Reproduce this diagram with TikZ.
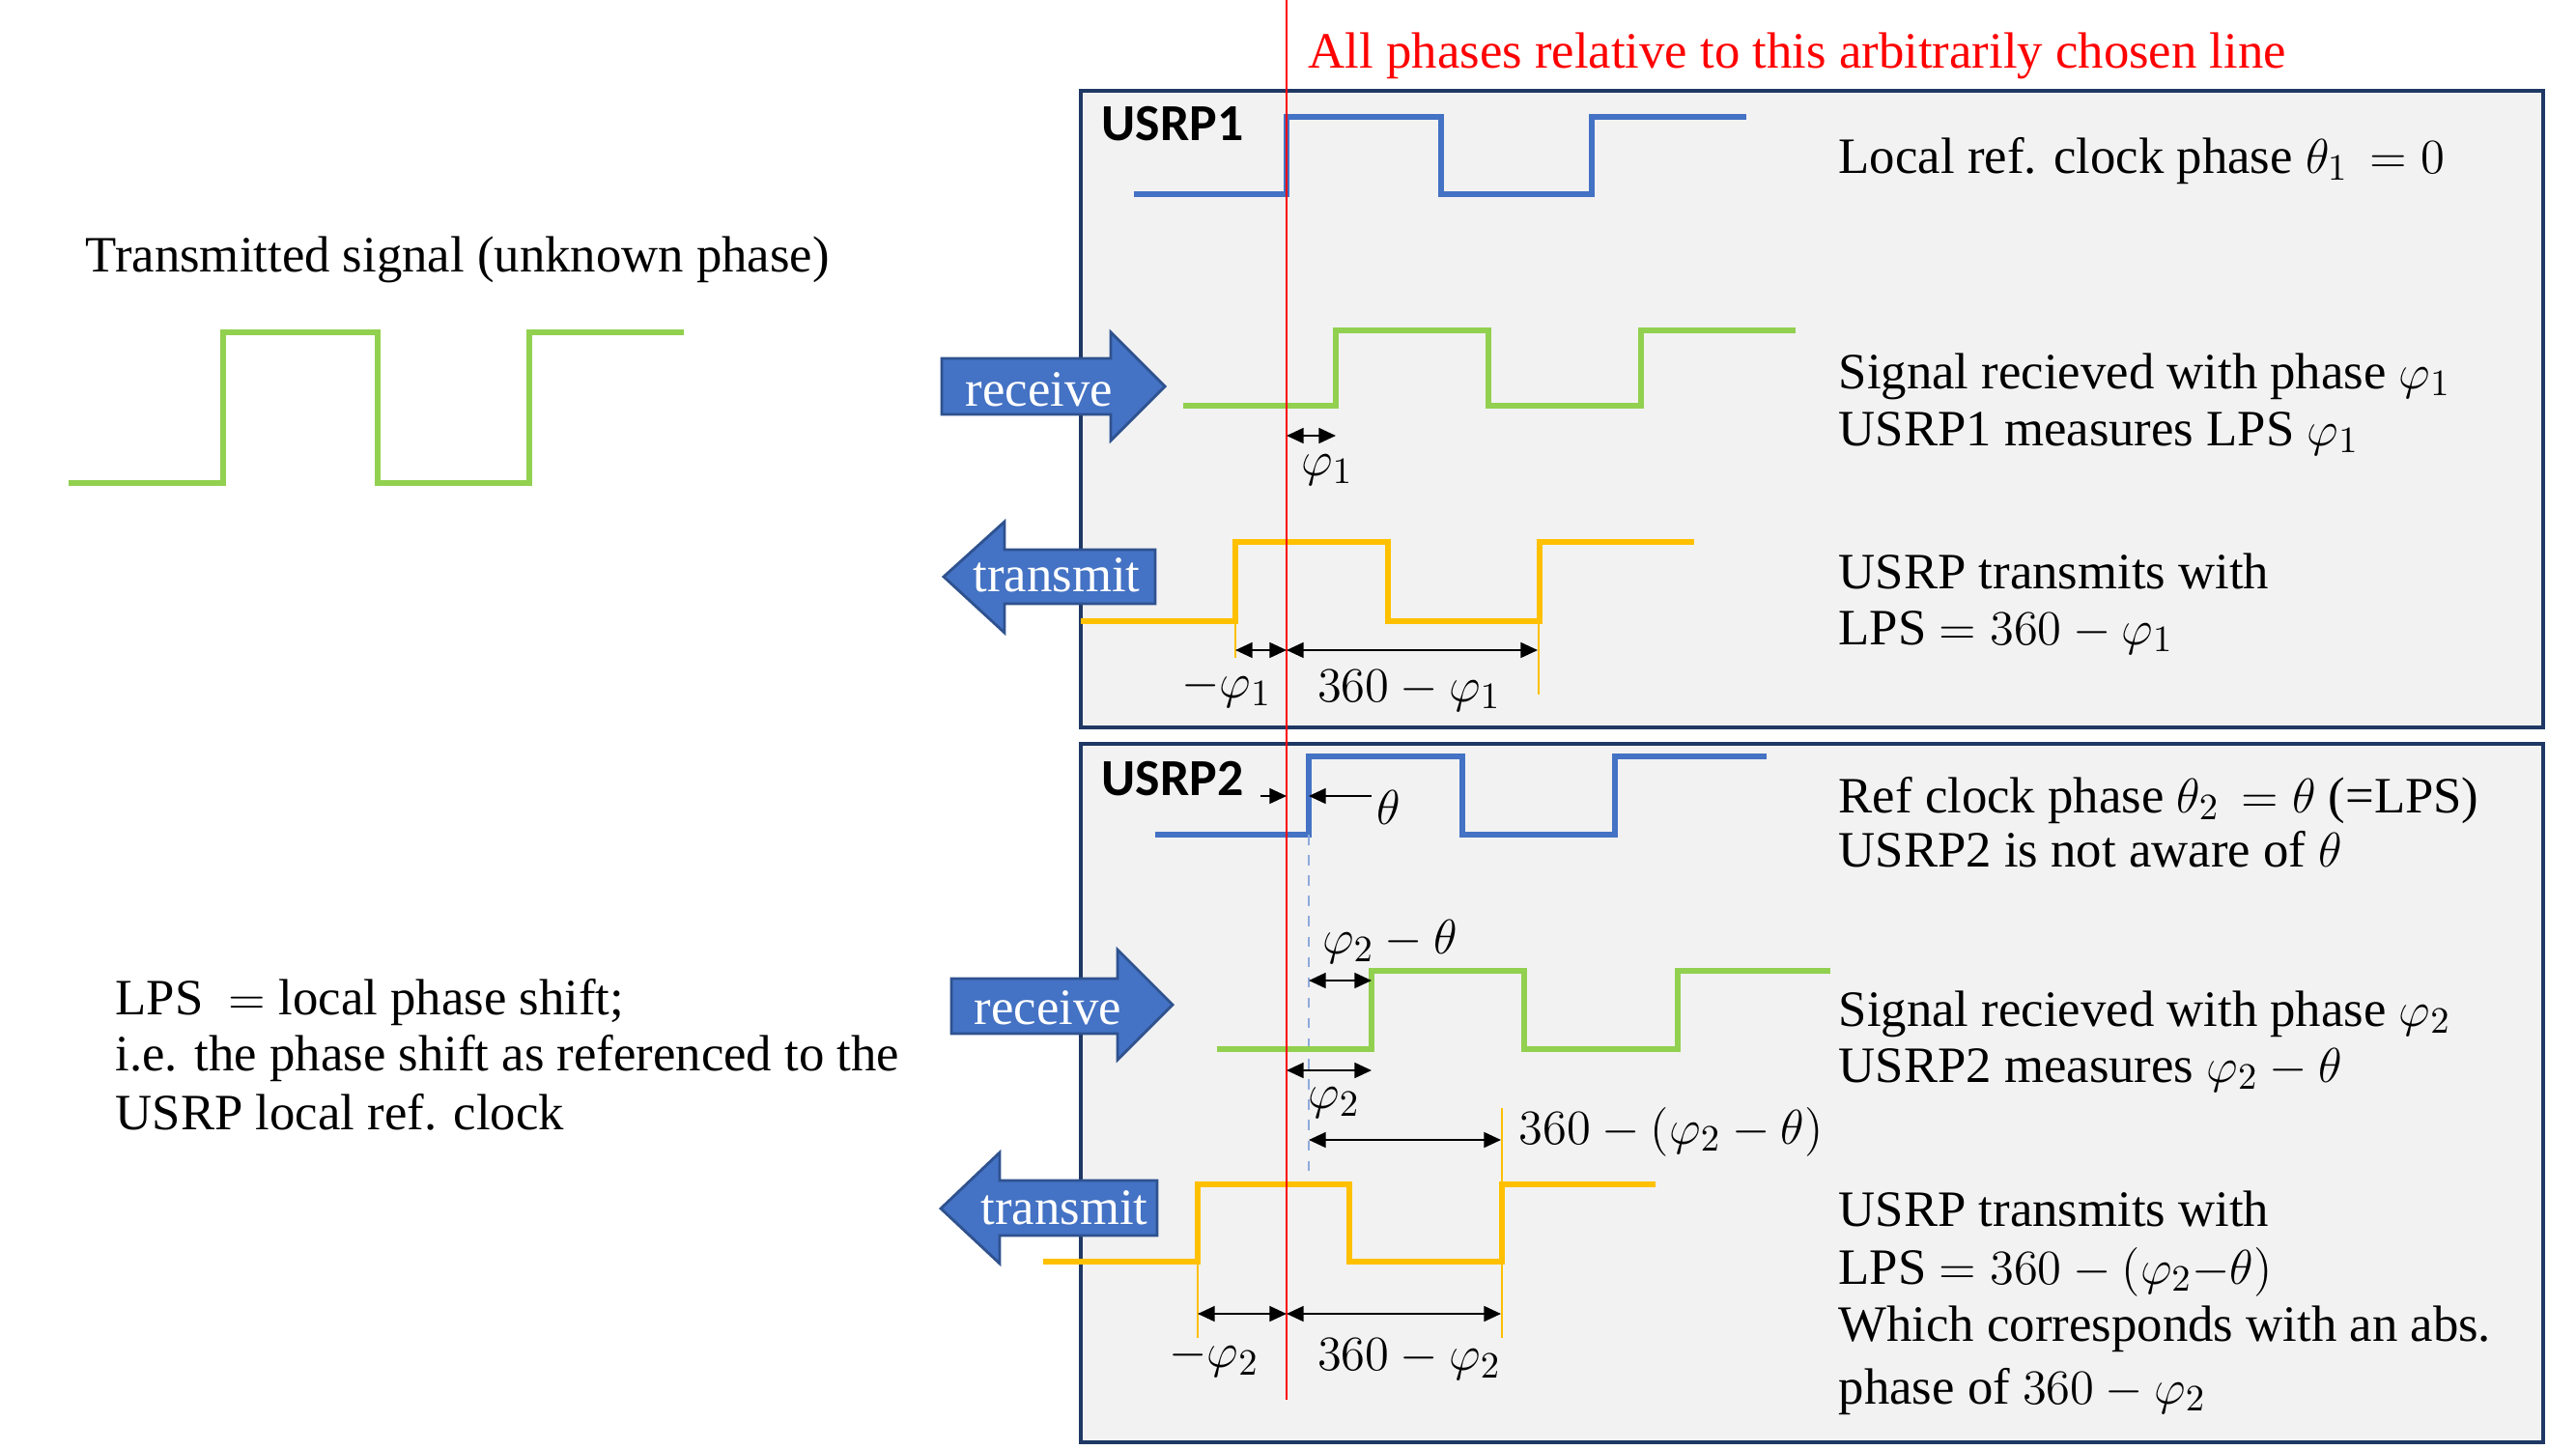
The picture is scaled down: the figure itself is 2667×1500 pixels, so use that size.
\documentclass[tikz,border=0pt]{standalone}
\usepackage{amsmath}
\usepackage{fontspec}
\setmainfont{Liberation Serif}
\newfontfamily\usrpfont{Carlito}
\usepackage{tikz}
\usetikzlibrary{arrows.meta}

\definecolor{clkblue}{HTML}{4472C4}
\definecolor{rxgreen}{HTML}{92D050}
\definecolor{txyellow}{HTML}{FFC000}
\definecolor{boxgray}{HTML}{F2F2F2}
\definecolor{boxnavy}{HTML}{1F3864}
\definecolor{arrowedge}{HTML}{2F528F}
\definecolor{guideblue}{HTML}{8FAADC}

\tikzset{
  usrpbox/.style={draw=boxnavy,line width=1.1pt,fill=boxgray},
  wave/.style={line width=1.8pt},
  bigarrow/.style={draw=arrowedge,line width=0.8pt,fill=clkblue},
  arrowtext/.style={text=white,inner sep=0pt},
  txt/.style={anchor=west,inner sep=0pt,text height=1.05em,text depth=0.25em},
  lbl/.style={inner sep=0pt},
  dim/.style={{Triangle[length=5pt,width=4.5pt]}-{Triangle[length=5pt,width=4.5pt]},line width=0.6pt},
  halfdim/.style={-{Triangle[length=5pt,width=4.5pt]},line width=0.6pt},
  guide/.style={txyellow,line width=0.5pt}
}

\begin{document}
\begin{tikzpicture}[x=0.01cm,y=-0.01cm,font=\fontsize{15}{19}\selectfont]
  \useasboundingbox (0,0) rectangle (2667,1500);

  % the two USRP boxes
  \draw[usrpbox] (1119,94) rectangle (2633,753);
  \draw[usrpbox] (1119,770) rectangle (2633,1493);
  \node[txt,font=\usrpfont\bfseries\fontsize{15.3}{18}\selectfont] (usrp1) at (1140,131) {USRP1};
  \node[txt,font=\usrpfont\bfseries\fontsize{15.3}{18}\selectfont] (usrp2) at (1140,809) {USRP2};

  % transmitted signal on the left
  \node[txt] (txsig) at (88,267) {Transmitted signal (unknown phase)};
  \draw[wave,rxgreen] (71,500) -- (231,500) |- (391,344) |- (548,500) |- (708,344);

  \node[txt] (lps1) at (119,1036) {LPS \ $=$ local phase shift;};
  \node[txt] (lps2) at (119,1094) {i.e. the phase shift as referenced to the};
  \node[txt] (lps3) at (119,1155) {USRP local ref. clock};

  % USRP1
  \draw[wave,clkblue] (1174,201) -- (1332,201) |- (1492,121) |- (1648,201) |- (1808,121);
  \draw[bigarrow] (975,371) -- (1150,371) -- (1150,344) -- (1206,400) -- (1150,456) -- (1150,429) -- (975,429) -- cycle;
  \node[arrowtext] (rx1) at (1076,403) {receive};
  \draw[wave,rxgreen] (1225,420) -- (1383,420) |- (1541,342) |- (1699,420) |- (1859,342);
  \draw[bigarrow] (977,597) -- (1040,540) -- (1040,569) -- (1196,569) -- (1196,625) -- (1040,625) -- (1040,655) -- cycle;
  \node[arrowtext] (tx1) at (1094,595) {transmit};
  \draw[wave,txyellow] (1119,643) -- (1279,643) |- (1437,561) |- (1594,643) |- (1754,561);
  \draw[guide] (1279,643) -- (1279,681);
  \draw[guide] (1593,643) -- (1593,719);

  \coordinate (r1a) at (1332,451);
  \coordinate (r1b) at (1383,451);
  \draw[dim] (r1a) -- (r1b);
  \node[lbl] (phi1) at (1374,487) {$\varphi_1$};
  \coordinate (t1a) at (1279,673);
  \coordinate (t1b) at (1332,673);
  \coordinate (t1c) at (1592,673);
  \draw[dim] (t1a) -- (t1b);
  \draw[dim] (t1b) -- (t1c);
  \node[lbl] (mphi1) at (1270,713) {$-\varphi_1$};
  \node[lbl] (lps1v) at (1459,715) {$360-\varphi_1$};

  \node[txt] (d11) at (1903,165) {Local ref. clock phase $\theta_1\,= 0$};
  \node[txt] (d12) at (1903,388) {Signal recieved with phase $\varphi_1$};
  \node[txt] (d13) at (1903,447) {USRP1 measures LPS $\varphi_1$};
  \node[txt] (d14) at (1903,595) {USRP transmits with};
  \node[txt] (d15) at (1903,653) {LPS $= 360-\varphi_1$};

  % USRP2
  \draw[wave,clkblue] (1196,864) -- (1355,864) |- (1514,783) |- (1672,864) |- (1829,783);
  \draw[guideblue,dashed,line width=0.5pt] (1355,864) -- (1355,1212);
  \coordinate (th0) at (1305,824);
  \coordinate (th1) at (1332,824);
  \coordinate (th2) at (1355,824);
  \coordinate (th3) at (1420,824);
  \draw[halfdim] (th0) -- (th1);
  \draw[halfdim] (th3) -- (th2);
  \node[lbl] (theta) at (1438,836) {$\theta$};

  \draw[bigarrow] (985,1013) -- (1157,1013) -- (1157,983) -- (1214,1040) -- (1157,1097) -- (1157,1070) -- (985,1070) -- cycle;
  \node[arrowtext] (rx2) at (1085,1043) {receive};
  \draw[wave,rxgreen] (1260,1086) -- (1420,1086) |- (1578,1005) |- (1737,1086) |- (1895,1005);
  \coordinate (r2a) at (1355,1015);
  \coordinate (r2b) at (1420,1015);
  \draw[dim] (r2a) -- (r2b);
  \node[lbl] (phi2th) at (1439,975) {$\varphi_2-\theta$};
  \coordinate (r2c) at (1332,1108);
  \coordinate (r2d) at (1420,1108);
  \draw[dim] (r2c) -- (r2d);
  \node[lbl] (phi2) at (1381,1142) {$\varphi_2$};
  \coordinate (r2e) at (1355,1180);
  \coordinate (r2f) at (1554,1180);
  \draw[dim] (r2e) -- (r2f);
  \node[txt] (lps2v) at (1572,1170) {$360-(\varphi_2-\theta)$};

  \draw[bigarrow] (974,1251) -- (1035,1193) -- (1035,1222) -- (1198,1222) -- (1198,1279) -- (1035,1279) -- (1035,1308) -- cycle;
  \node[arrowtext] (tx2) at (1102,1250) {transmit};
  \draw[wave,txyellow] (1080,1306) -- (1240,1306) |- (1397,1226) |- (1555,1306) |- (1714,1226);
  \draw[guide] (1240,1306) -- (1240,1385);
  \draw[guide] (1555,1147) -- (1555,1385);
  \coordinate (t2a) at (1240,1360);
  \coordinate (t2b) at (1332,1360);
  \coordinate (t2c) at (1554,1360);
  \draw[dim] (t2a) -- (t2b);
  \draw[dim] (t2b) -- (t2c);
  \node[lbl] (mphi2) at (1257,1406) {$-\varphi_2$};
  \node[lbl] (abs2) at (1459,1407) {$360-\varphi_2$};

  \node[txt] (d21) at (1903,827) {Ref clock phase $\theta_2\, = \theta$ (=LPS)};
  \node[txt] (d22) at (1903,883) {USRP2 is not aware of $\theta$};
  \node[txt] (d23) at (1903,1048) {Signal recieved with phase $\varphi_2$};
  \node[txt] (d24) at (1903,1106) {USRP2 measures $\varphi_2-\theta$};
  \node[txt] (d25) at (1903,1255) {USRP transmits with};
  \node[txt] (d26) at (1903,1315) {LPS $= 360-(\varphi_2{-}\theta)$};
  \node[txt] (d27) at (1903,1374) {Which corresponds with an abs.};
  \node[txt] (d28) at (1903,1439) {phase of $360-\varphi_2$};

  % reference line
  \coordinate (reftop) at (1332,0);
  \coordinate (refbot) at (1332,1449);
  \draw[red,line width=0.5pt] (reftop) -- (refbot);
  \node[txt,text=red] (refnote) at (1354,56) {All phases relative to this arbitrarily chosen line};
\end{tikzpicture}
\end{document}
